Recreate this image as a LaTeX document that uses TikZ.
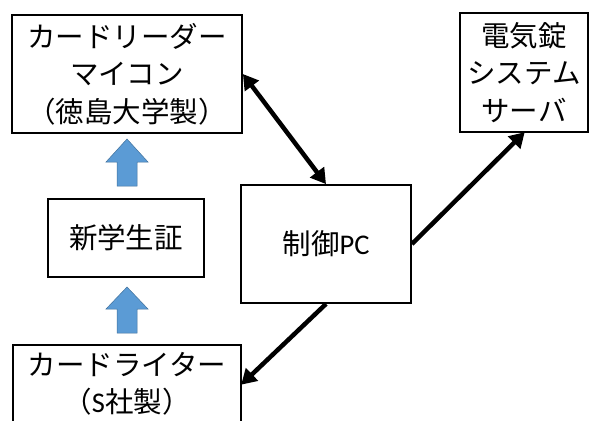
\documentclass[tikz,border=0pt]{standalone}
\usepackage{fontspec}
\setmainfont{Carlito}
\newfontfamily\jp{Noto Sans CJK JP}
\usetikzlibrary{arrows.meta}
\definecolor{blockfill}{HTML}{5B9BD5}
\definecolor{blockline}{HTML}{41719C}
\tikzset{
  boxnode/.style={draw, line width=1.8pt, rectangle, inner sep=0pt, align=center,
    font=\jp\fontsize{28.5}{37.5}\selectfont},
  linkarrow/.style={line width=4.5pt, -{Triangle[length=15pt,width=17pt]}, shorten >=-1pt},
  bidiarrow/.style={line width=4.5pt, {Triangle[length=15pt,width=17pt]}-{Triangle[length=15pt,width=17pt]}},
  blockarrow/.style={fill=blockfill, draw=blockline, line width=0.5pt}
}
\begin{document}
\begin{tikzpicture}[x=1pt,y=-1pt]
\useasboundingbox (0,0) rectangle (590,421);
\clip (0,0) rectangle (590,421);
\node[boxnode, minimum width=230pt, minimum height=118pt] (reader) at (127,74)
  {カードリーダー\\マイコン\\（徳島大学製）};
\node[boxnode, minimum width=128pt, minimum height=119pt] (server) at (524,72.5)
  {電気錠\\システム\\サーバ};
\node[boxnode, minimum width=156pt, minimum height=78pt] (card) at (126,238)
  {新学生証};
\node[boxnode, minimum width=170pt, minimum height=118pt] (pc) at (326,244)
  {制御{\normalfont PC}};
\node[boxnode, minimum width=228pt, minimum height=78pt] (writer) at (127,384)
  {カードライター\\（{\normalfont S}社製）};
% blue block arrows
\draw[blockarrow] (127,139) -- (148,162) -- (137,162) -- (137,186) -- (117,186)
  -- (117,162) -- (106,162) -- cycle;
\draw[blockarrow] (127,287) -- (148,309) -- (137,309) -- (137,333) -- (117,333)
  -- (117,309) -- (106,309) -- cycle;
% black connectors
\draw[bidiarrow] (reader.east) -- (pc.north);
\draw[linkarrow] (pc.east) -- (server.south);
\draw[linkarrow] (pc.south) -- (writer.east);
\end{tikzpicture}
\end{document}
